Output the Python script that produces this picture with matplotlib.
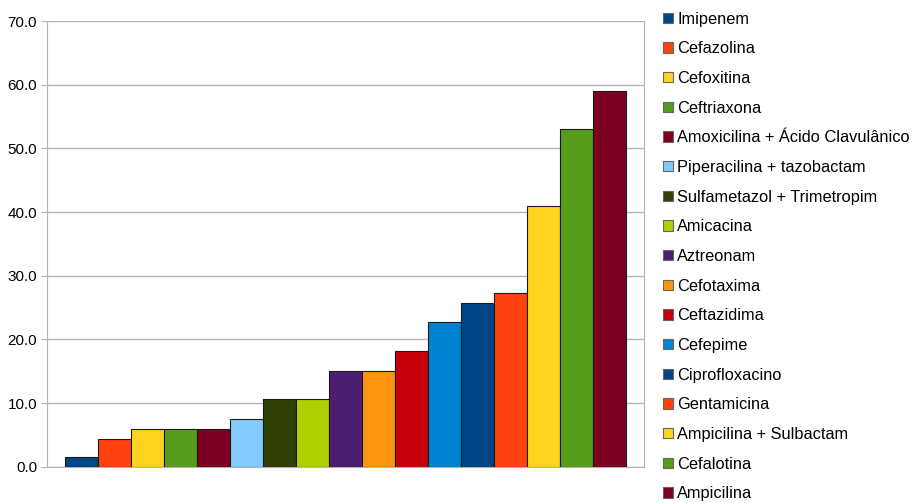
import matplotlib.pyplot as plt

plt.rcParams['font.family'] = ['Liberation Sans', 'DejaVu Sans']

names = ['Imipenem', 'Cefazolina', 'Cefoxitina', 'Ceftriaxona',
         'Amoxicilina + Ácido Clavulânico', 'Piperacilina + tazobactam',
         'Sulfametazol + Trimetropim', 'Amicacina', 'Aztreonam', 'Cefotaxima',
         'Ceftazidima', 'Cefepime', 'Ciprofloxacino', 'Gentamicina',
         'Ampicilina + Sulbactam', 'Cefalotina', 'Ampicilina']
values = [1.5, 4.4, 5.9, 5.9, 5.9, 7.5, 10.6, 10.6, 15.1, 15.1,
          18.2, 22.7, 25.8, 27.3, 40.9, 53.0, 59.0]
colors = ['#004586', '#ff420e', '#ffd320', '#579d1c', '#7e0021', '#83caff',
          '#314004', '#aecf00', '#4b1f6f', '#ff950e', '#c5000b', '#0084d1',
          '#004586', '#ff420e', '#ffd320', '#579d1c', '#7e0021']

fig = plt.figure(figsize=(9.17, 5.03), dpi=100)
ax = fig.add_axes([0.051, 0.072, 0.651, 0.886])

x = range(len(values))
bars = ax.bar(x, values, width=1.0, color=colors, edgecolor='#1a1a1a',
              linewidth=0.8, zorder=3)

ax.set_xlim(-1.05, len(values) + 0.05)
ax.set_ylim(0, 70)
ax.set_yticks(range(0, 71, 10))
ax.set_yticklabels([f'{v:.1f}' for v in range(0, 71, 10)], fontsize=11)
ax.set_xticks([])
ax.yaxis.grid(True, color='#b3b3b3', linewidth=1)
for s in ax.spines.values():
    s.set_color('#b3b3b3')
ax.spines['top'].set_visible(False)
ax.tick_params(axis='y', length=4, color='#b3b3b3', pad=3)

fig.legend(bars, names, loc='upper left', bbox_to_anchor=(0.716, 0.99),
           frameon=False, fontsize=11.8, handlelength=0.6, handleheight=0.6,
           handletextpad=0.25, labelspacing=0.895, borderaxespad=0)
for h in fig.legends[0].legend_handles:
    h.set_edgecolor('#666666')
    h.set_linewidth(0.8)

fig.savefig('out.png', dpi=100)
